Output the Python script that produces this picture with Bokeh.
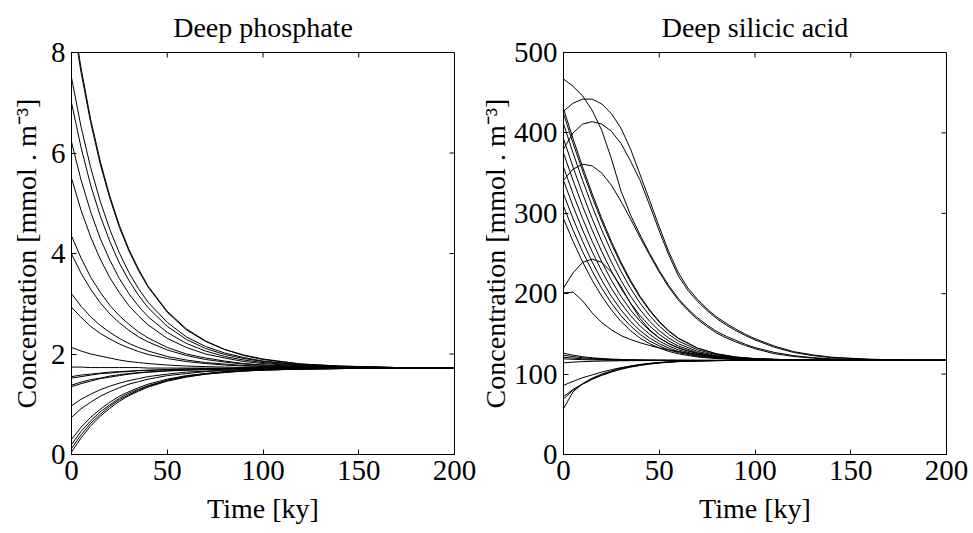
from bokeh.plotting import figure
from bokeh.models import ColumnDataSource, FixedTicker, Range1d
from bokeh.layouts import row
from bokeh.embed import file_html
from bokeh.resources import INLINE

# ---------------- data: deep phosphate ----------------
T_P = [0, 5, 10, 15, 20, 25, 30, 35, 40, 50, 60, 70, 80, 90, 100, 120, 140, 170, 200]
p01 = [8.90, 7.69, 6.67, 5.84, 5.14, 4.56, 4.08, 3.69, 3.35, 2.85, 2.50, 2.26, 2.09, 1.98, 1.90, 1.80, 1.76, 1.73, 1.72]
p02 = [8.80, 7.60, 6.61, 5.78, 5.10, 4.52, 4.05, 3.66, 3.33, 2.83, 2.48, 2.25, 2.09, 1.97, 1.89, 1.80, 1.76, 1.73, 1.72]
p03 = [7.50, 6.52, 5.71, 5.04, 4.48, 4.01, 3.62, 3.30, 3.03, 2.63, 2.34, 2.15, 2.02, 1.93, 1.86, 1.79, 1.75, 1.73, 1.72]
p04 = [7.00, 6.11, 5.36, 4.75, 4.24, 3.81, 3.46, 3.17, 2.92, 2.55, 2.29, 2.11, 1.99, 1.91, 1.85, 1.78, 1.75, 1.73, 1.72]
p05 = [6.22, 5.46, 4.83, 4.30, 3.87, 3.50, 3.20, 2.95, 2.74, 2.43, 2.21, 2.06, 1.95, 1.88, 1.83, 1.77, 1.75, 1.73, 1.72]
p06 = [5.50, 4.86, 4.33, 3.89, 3.52, 3.22, 2.96, 2.76, 2.58, 2.31, 2.13, 2.00, 1.92, 1.85, 1.81, 1.76, 1.74, 1.73, 1.72]
p07 = [4.35, 3.91, 3.53, 3.23, 2.97, 2.76, 2.59, 2.44, 2.32, 2.13, 2.00, 1.92, 1.86, 1.81, 1.78, 1.75, 1.73, 1.72, 1.72]
p08 = [3.99, 3.61, 3.29, 3.02, 2.80, 2.62, 2.47, 2.34, 2.24, 2.08, 1.97, 1.89, 1.84, 1.80, 1.78, 1.75, 1.73, 1.72, 1.72]
p09 = [3.20, 2.95, 2.74, 2.57, 2.43, 2.31, 2.21, 2.13, 2.06, 1.95, 1.88, 1.83, 1.80, 1.77, 1.76, 1.74, 1.73, 1.72, 1.72]
p10 = [2.93, 2.73, 2.55, 2.41, 2.30, 2.20, 2.12, 2.05, 1.99, 1.91, 1.85, 1.81, 1.78, 1.76, 1.75, 1.73, 1.73, 1.72, 1.72]
p11 = [2.13, 2.06, 2.00, 1.96, 1.92, 1.88, 1.85, 1.83, 1.81, 1.78, 1.76, 1.75, 1.74, 1.73, 1.73, 1.72, 1.72, 1.72, 1.72]
p12 = [1.74, 1.74, 1.73, 1.73, 1.73, 1.73, 1.73, 1.73, 1.72, 1.72, 1.72, 1.72, 1.72, 1.72, 1.72, 1.72, 1.72, 1.72, 1.72]
p13 = [1.55, 1.58, 1.60, 1.62, 1.64, 1.65, 1.66, 1.67, 1.68, 1.69, 1.70, 1.71, 1.71, 1.71, 1.72, 1.72, 1.72, 1.72, 1.72]
p14 = [1.52, 1.55, 1.58, 1.61, 1.62, 1.64, 1.65, 1.67, 1.67, 1.69, 1.70, 1.71, 1.71, 1.71, 1.72, 1.72, 1.72, 1.72, 1.72]
p15 = [1.38, 1.44, 1.49, 1.52, 1.56, 1.59, 1.61, 1.63, 1.64, 1.67, 1.68, 1.69, 1.70, 1.71, 1.71, 1.72, 1.72, 1.72, 1.72]
p16 = [1.35, 1.41, 1.46, 1.51, 1.54, 1.57, 1.60, 1.62, 1.64, 1.66, 1.68, 1.69, 1.70, 1.71, 1.71, 1.72, 1.72, 1.72, 1.72]
p17 = [0.97, 1.10, 1.20, 1.29, 1.36, 1.42, 1.47, 1.51, 1.55, 1.60, 1.64, 1.66, 1.68, 1.69, 1.70, 1.71, 1.72, 1.72, 1.72]
p18 = [0.74, 0.91, 1.04, 1.16, 1.25, 1.33, 1.40, 1.45, 1.50, 1.57, 1.61, 1.65, 1.67, 1.69, 1.70, 1.71, 1.71, 1.72, 1.72]
p19 = [0.30, 0.54, 0.74, 0.90, 1.04, 1.16, 1.25, 1.33, 1.40, 1.50, 1.57, 1.61, 1.65, 1.67, 1.69, 1.70, 1.71, 1.72, 1.72]
p20 = [0.20, 0.46, 0.67, 0.85, 0.99, 1.12, 1.22, 1.30, 1.37, 1.48, 1.56, 1.61, 1.64, 1.67, 1.68, 1.70, 1.71, 1.72, 1.72]
p21 = [0.12, 0.39, 0.62, 0.80, 0.96, 1.09, 1.19, 1.28, 1.36, 1.47, 1.55, 1.60, 1.64, 1.66, 1.68, 1.70, 1.71, 1.72, 1.72]
p22 = [0.05, 0.33, 0.57, 0.76, 0.92, 1.06, 1.17, 1.26, 1.34, 1.46, 1.54, 1.60, 1.63, 1.66, 1.68, 1.70, 1.71, 1.72, 1.72]

# ---------------- data: deep silicic acid ----------------
# curves with a hump / slow sigmoid descent (denser time sampling)
T_H = [0, 5, 10, 15, 20, 25, 30, 35, 40, 45, 50, 55, 60, 65, 70, 75, 80, 85, 90, 95, 100,
       110, 120, 130, 140, 160, 180, 200]
s_a = [467, 458, 446, 428, 403, 368, 328, 298, 273, 250, 229, 210, 194, 181, 170, 161, 153, 147, 142, 137,
       133, 127, 123, 120.5, 119, 117.8, 117.3, 117.1]
s_h1 = [427, 437, 442, 442, 436, 424, 406, 380, 348, 316, 283, 252, 226, 207, 193, 181, 171, 163, 156, 149.5,
        144, 135, 128, 124, 121, 118.5, 117.5, 117.2]
s_h2 = [380, 400, 411, 414, 411, 402, 387, 365, 341, 310, 278, 248, 222, 204, 190.5, 179, 169, 161, 154, 148,
        142.5, 133.5, 127, 123, 120.5, 118.3, 117.4, 117.2]
s_h3 = [341, 355, 361, 359, 350, 335, 315, 293, 270, 248, 227, 208, 192, 179, 168, 159, 151, 145, 140, 135.5,
        131.5, 125.5, 122, 119.8, 118.6, 117.6, 117.2, 117.1]
s_h4 = [207, 226, 239, 243, 239, 227, 209, 188, 169, 155, 145, 138, 133, 129, 126, 123.5, 121.5, 120.2, 119.2,
        118.6, 118.1, 117.6, 117.3, 117.1, 117, 117, 117, 117]
s_h5 = [201, 202, 191, 176, 164, 155, 148, 143, 139, 135.5, 132.5, 130, 128, 126, 124.5, 123.2, 122, 121, 120,
        119.4, 119, 118.2, 117.7, 117.4, 117.2, 117, 117, 117]

# steeply decreasing bundle, near-equilibrium and rising curves
T_S = [0, 5, 10, 15, 20, 25, 30, 35, 40, 45, 50, 55, 60, 70, 80, 90, 100, 120, 140, 170, 200]
s_b00 = [430, 392.7, 357.4, 324.2, 293.3, 265, 239.4, 216.6, 196.8, 179.9, 165.6, 154, 144.8, 132.4, 125.2, 121.3, 119.3, 117.6, 117.2, 117, 117]
s_b01 = [424, 387.2, 352.6, 320.1, 289.8, 262, 237, 214.6, 195.2, 178.6, 164.6, 153.3, 144.2, 132.1, 125.0, 121.2, 119.2, 117.6, 117.2, 117, 117]
s_b02 = [411.3, 375, 340.8, 308.7, 279.1, 252.2, 228, 206.7, 188.3, 172.7, 159.8, 149.4, 141.1, 130.2, 124, 120.7, 118.9, 117.5, 117.1, 117, 117]
s_b03 = [392.7, 357.4, 324.2, 293.3, 265, 239.4, 216.6, 196.8, 179.9, 165.6, 154, 144.8, 137.8, 128.2, 122.9, 120.1, 118.7, 117.5, 117.1, 117, 117]
s_b04 = [375, 340.8, 308.7, 279.1, 252.2, 228, 206.7, 188.3, 172.7, 159.8, 149.4, 141.1, 135, 126.6, 122.1, 119.7, 118.4, 117.4, 117.1, 117, 117]
s_b05 = [357.4, 324.2, 293.3, 265, 239.4, 216.6, 196.8, 179.9, 165.6, 154, 144.8, 137.8, 132.4, 125.2, 121.3, 119.3, 118.2, 117.3, 117.1, 117, 117]
s_b06 = [340.8, 308.7, 279.1, 252.2, 228, 206.7, 188.3, 172.7, 159.8, 149.4, 141.1, 135, 130.2, 124, 120.7, 118.9, 118, 117.3, 117.1, 117, 117]
s_b07 = [324.2, 293.3, 265, 239.4, 216.6, 196.8, 179.9, 165.6, 154, 144.8, 137.8, 132.4, 128.2, 122.9, 120.1, 118.7, 117.9, 117.2, 117, 117, 117]
s_b08 = [308.7, 279.1, 252.2, 228, 206.7, 188.3, 172.7, 159.8, 149.4, 141.1, 135, 130.2, 126.6, 122.1, 119.7, 118.4, 117.7, 117.2, 117, 117, 117]
s_b09 = [293.3, 265, 239.4, 216.6, 196.8, 179.9, 165.6, 154, 144.8, 137.8, 132.4, 128.2, 125.2, 121.3, 119.3, 118.2, 117.6, 117.2, 117, 117, 117]
s_e1 = [126, 123.5, 121.6, 120.3, 119.4, 118.7, 118.2, 117.9, 117.6, 117.4, 117.3, 117.2, 117.15, 117.1, 117, 117, 117, 117, 117, 117, 117]
s_e2 = [123.5, 121.7, 120.4, 119.4, 118.7, 118.2, 117.8, 117.6, 117.4, 117.3, 117.2, 117.15, 117.1, 117.05, 117, 117, 117, 117, 117, 117, 117]
s_e3 = [121, 119.9, 119.1, 118.5, 118.1, 117.8, 117.5, 117.4, 117.3, 117.2, 117.15, 117.1, 117.1, 117, 117, 117, 117, 117, 117, 117, 117]
s_e4 = [119, 118.4, 118, 117.7, 117.5, 117.4, 117.3, 117.2, 117.15, 117.1, 117.1, 117.05, 117, 117, 117, 117, 117, 117, 117, 117, 117]
s_e5 = [114, 114.9, 115.5, 115.9, 116.2, 116.4, 116.6, 116.7, 116.8, 116.85, 116.9, 116.95, 117, 117, 117, 117, 117, 117, 117, 117, 117]
s_r1 = [86, 91, 95.5, 99, 102.5, 105.5, 108, 110, 111.8, 113.2, 114.3, 115.1, 115.7, 116.4, 116.8, 117, 117, 117, 117, 117, 117]
s_r2 = [72, 81, 88, 94, 99, 103, 106.5, 109, 111, 112.7, 114, 115, 115.6, 116.4, 116.8, 117, 117, 117, 117, 117, 117]
s_r3 = [69, 80, 87.5, 93.5, 98.5, 102.5, 106, 108.7, 110.8, 112.5, 113.8, 114.8, 115.5, 116.3, 116.8, 117, 117, 117, 117, 117, 117]
s_r4 = [57, 78, 88, 95, 100, 104, 107.5, 110, 112, 113.4, 114.5, 115.3, 115.9, 116.5, 116.8, 117, 117, 117, 117, 117, 117]

X_TICKS = [0, 50, 100, 150, 200]
P_TICKS = [0, 2, 4, 6, 8]
S_TICKS = [0, 100, 200, 300, 400, 500]

P_CURVES = [p01, p02, p03, p04, p05, p06, p07, p08, p09, p10, p11,
            p12, p13, p14, p15, p16, p17, p18, p19, p20, p21, p22]
S_HUMP_CURVES = [s_a, s_h1, s_h2, s_h3, s_h4, s_h5]
S_OTHER_CURVES = [s_b00, s_b01, s_b02, s_b03, s_b04, s_b05, s_b06, s_b07, s_b08, s_b09,
                  s_e1, s_e2, s_e3, s_e4, s_e5, s_r1, s_r2, s_r3, s_r4]

FONT = "Liberation Serif"
YLABEL = "Concentration [mmol . m\u207b\u00b3]"


def style_axis(ax, ticks, label_standoff):
    ax.ticker = FixedTicker(ticks=ticks)
    ax.major_tick_in = 5
    ax.major_tick_out = 0
    ax.minor_tick_in = 0
    ax.minor_tick_out = 0
    ax.axis_line_color = "black"
    ax.axis_line_width = 1
    ax.major_tick_line_color = "black"
    ax.major_tick_line_width = 1
    ax.major_label_text_font = FONT
    ax.major_label_text_color = "black"
    ax.major_label_text_font_size = "29px"
    ax.major_label_standoff = 6
    ax.axis_label_text_font = FONT
    ax.axis_label_text_font_style = "normal"
    ax.axis_label_text_color = "black"
    ax.axis_label_text_font_size = "28px"
    ax.axis_label_standoff = label_standoff


def make_panel(title, groups, y_end, yticks, b_left, b_right, ylab_standoff):
    p = figure(frame_width=383, frame_height=402,
               x_range=Range1d(0, 200), y_range=Range1d(0, y_end),
               output_backend="svg", toolbar_location=None,
               min_border_left=b_left, min_border_right=b_right,
               min_border_top=52, min_border_bottom=79,
               background_fill_color="white", border_fill_color="white")
    p.title.text = title
    p.title.text_font = FONT
    p.title.text_font_size = "28px"
    p.title.text_font_style = "normal"
    p.title.text_color = "black"
    p.title.align = "center"
    p.title.standoff = 19
    p.grid.visible = False
    p.outline_line_color = "black"
    p.outline_line_width = 1
    p.outline_line_alpha = 1

    xs, ys = [], []
    for t, curves in groups:
        for c in curves:
            xs.append(t)
            ys.append(c)
    src = ColumnDataSource(dict(xs=xs, ys=ys))
    p.multi_line("xs", "ys", source=src, line_color="black", line_width=1)

    style_axis(p.xaxis[0], X_TICKS, 10)
    p.xaxis[0].axis_label = "Time [ky]"
    style_axis(p.yaxis[0], yticks, ylab_standoff)
    p.yaxis[0].axis_label = YLABEL

    # mirrored inward ticks on the top and right edges of the box
    p.ray(x=X_TICKS, y=[y_end] * len(X_TICKS), length=5, length_units="screen",
          angle=-90, angle_units="deg", line_color="black", line_width=1)
    p.ray(x=[200] * len(yticks), y=yticks, length=5, length_units="screen",
          angle=180, angle_units="deg", line_color="black", line_width=1)
    return p


p1 = make_panel("Deep phosphate", [(T_P, P_CURVES)], 8, P_TICKS, 71, 22, 6)
p2 = make_panel("Deep silicic acid", [(T_H, S_HUMP_CURVES), (T_S, S_OTHER_CURVES)],
                500, S_TICKS, 87, 24, 0)

layout = row(p1, p2, spacing=0)
open("out.html", "w").write(file_html(layout, INLINE))
